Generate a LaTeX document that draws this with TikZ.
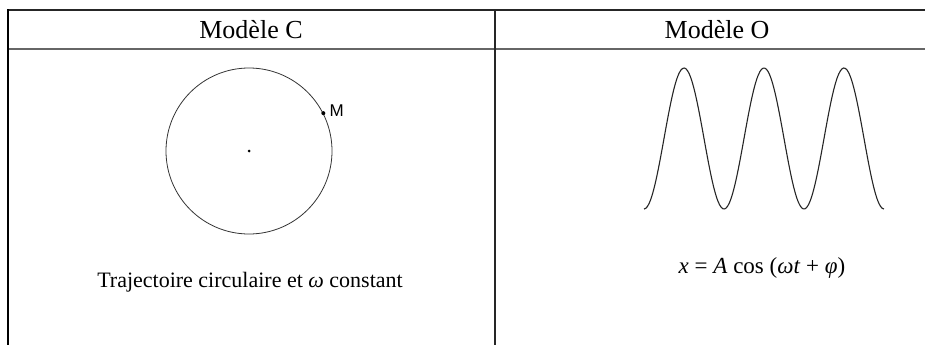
\documentclass[tikz,border=0pt]{standalone}
\usepackage{fontspec}
\setmainfont{Liberation Serif}
\newfontfamily\labelfont{Liberation Sans}
\usetikzlibrary{positioning}

\begin{document}
\begin{tikzpicture}[
  x=1pt, y=-1pt,
  rule/.style={line width=1.5pt, black!85},
  head/.style={font=\fontsize{26}{30}\selectfont, inner sep=0pt},
  caption/.style={font=\fontsize{22}{26}\selectfont, inner sep=0pt},
  dot/.style={circle, fill=black, inner sep=0pt, minimum size=#1}
]
\useasboundingbox (0,0) rectangle (925,345);

% Table rules
\draw[rule] (7,10) -- (925,10);
\draw[rule, black!60] (7,49) -- (925,49);
\draw[line width=2.2pt] (8,9.5) -- (8,345);
\draw[rule] (495,9.5) -- (495,345);

% Headers
\node[head] (hdC) at (251,30) {Modèle C};
\node[head] (hdO) at (717,30) {Modèle O};

% Model C: circular path
\node[draw, circle, minimum size=166pt, inner sep=0pt, line width=0.8pt, black!80] (traj) at (249,151) {};
\node[dot=3pt] (ctr) at (traj.center) {};
\node[dot=4pt] (ptM) at (traj.27) {};
\node[right=4pt of ptM, font=\labelfont\fontsize{17}{19}\selectfont, inner sep=0pt, yshift=2.5pt] (lblM) {M};
\node[caption] (capC) at (250,282) {Trajectoire circulaire et \textit{ω} constant};

% Model O: oscillation
\draw[line width=1.1pt, black!85] plot[domain=0:3, samples=150, smooth] ({644+80*\x}, {138.5+70.5*cos(360*\x)});
\node[caption, font=\fontsize{23}{26}\selectfont] (capO) at (762,268) {\textit{x} = \textit{A} cos (\textit{ωt} + \textit{φ})};
\end{tikzpicture}
\end{document}
